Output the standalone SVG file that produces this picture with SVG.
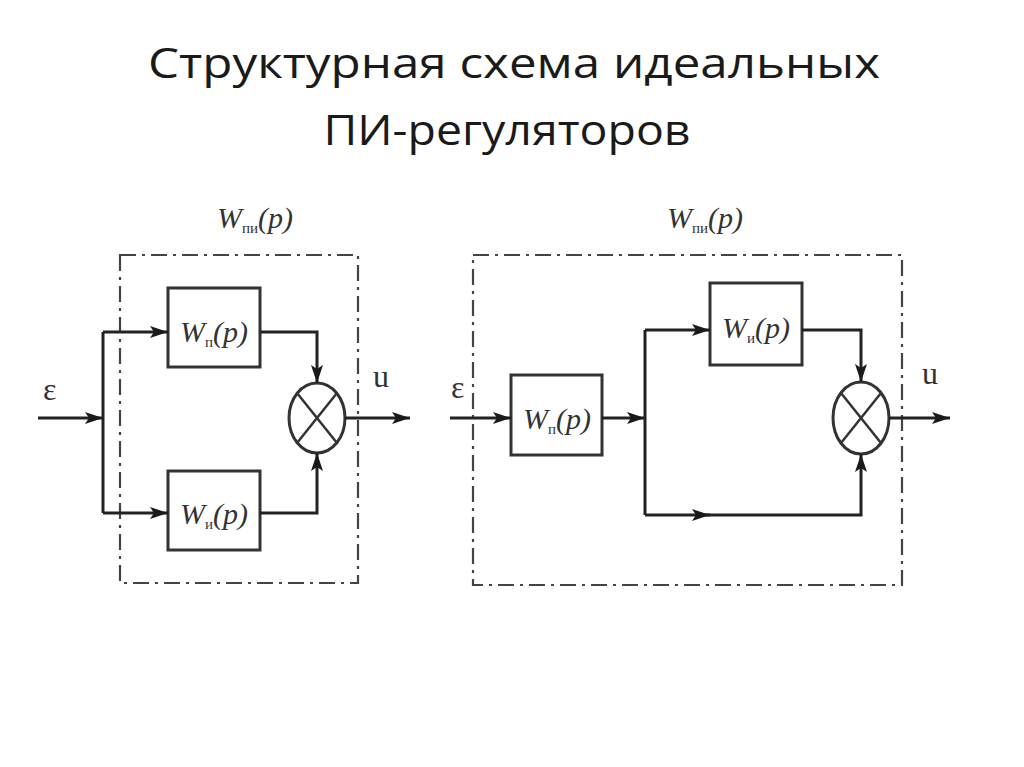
<svg xmlns="http://www.w3.org/2000/svg" width="1024" height="767" viewBox="0 0 1024 767">
<defs>
<marker id="ah" viewBox="0 0 18 12" refX="18" refY="6" markerWidth="18" markerHeight="12" markerUnits="userSpaceOnUse" orient="auto">
<path d="M0,0 L18,6 L0,12 L4,6 Z" fill="#1a1a1a"/>
</marker>
<style>
.title{font-family:"Open Sans","Liberation Sans",sans-serif;font-size:42px;fill:#1a1a1a;text-anchor:middle}
.frame{fill:none;stroke:#444;stroke-width:2.2;stroke-dasharray:16 6 3 6}
.blk{fill:#fff;stroke:#333;stroke-width:3}
.ln{fill:none;stroke:#222;stroke-width:3}
.lbl{font-family:"Liberation Serif",serif;font-style:italic;font-size:30px;fill:#333;text-anchor:middle}
.sub{font-size:15px;font-style:normal}
.sym{font-family:"Liberation Serif",serif;font-size:32px;fill:#333}
</style>
</defs>
<rect width="1024" height="767" fill="#fff"/>
<text class="title" x="514" y="78" textLength="732" lengthAdjust="spacingAndGlyphs">Структурная схема идеальных</text>
<text class="title" x="507" y="145" textLength="367" lengthAdjust="spacingAndGlyphs">ПИ-регуляторов</text>

<!-- Left diagram -->
<g id="left-frame">
<rect class="frame" x="120" y="255" width="238" height="328"/>
<text class="lbl" x="255" y="228">W<tspan class="sub" dy="5">пи</tspan><tspan dy="-5">(p)</tspan></text>
</g>
<g id="L-Wp">
<rect class="blk" x="168" y="288" width="92" height="79"/>
<text class="lbl" x="214" y="342">W<tspan class="sub" dy="5">п</tspan><tspan dy="-5">(p)</tspan></text>
</g>
<g id="L-Wi">
<rect class="blk" x="168" y="471" width="92" height="79"/>
<text class="lbl" x="214" y="524">W<tspan class="sub" dy="5">и</tspan><tspan dy="-5">(p)</tspan></text>
</g>
<g id="L-sum">
<ellipse cx="317" cy="418" rx="28" ry="35" fill="#fff" stroke="#333" stroke-width="3"/>
<line x1="297" y1="393" x2="337" y2="443" stroke="#333" stroke-width="2.5"/>
<line x1="337" y1="393" x2="297" y2="443" stroke="#333" stroke-width="2.5"/>
</g>
<g id="L-labels">
<text class="sym" x="43" y="400">ε</text>
<text class="sym" x="373" y="387">u</text>
</g>
<g id="L-connectors">
<line class="ln" x1="38" y1="418" x2="103" y2="418" marker-end="url(#ah)"/>
<polyline class="ln" points="103,332 103,513"/>
<line class="ln" x1="103" y1="332" x2="168" y2="332" marker-end="url(#ah)"/>
<line class="ln" x1="103" y1="513" x2="168" y2="513" marker-end="url(#ah)"/>
<polyline class="ln" points="260,332 317,332 317,383" marker-end="url(#ah)"/>
<polyline class="ln" points="260,513 317,513 317,453" marker-end="url(#ah)"/>
<line class="ln" x1="345" y1="418" x2="410" y2="418" marker-end="url(#ah)"/>
</g>

<!-- Right diagram -->
<g id="right-frame">
<rect class="frame" x="473" y="255" width="429" height="330"/>
<text class="lbl" x="705" y="228">W<tspan class="sub" dy="5">пи</tspan><tspan dy="-5">(p)</tspan></text>
</g>
<g id="R-Wp">
<rect class="blk" x="511" y="375" width="91" height="80"/>
<text class="lbl" x="557" y="429">W<tspan class="sub" dy="5">п</tspan><tspan dy="-5">(p)</tspan></text>
</g>
<g id="R-Wi">
<rect class="blk" x="710" y="283" width="92" height="82"/>
<text class="lbl" x="756" y="338">W<tspan class="sub" dy="5">и</tspan><tspan dy="-5">(p)</tspan></text>
</g>
<g id="R-sum">
<ellipse cx="861" cy="418" rx="28" ry="36" fill="#fff" stroke="#333" stroke-width="3"/>
<line x1="841" y1="393" x2="881" y2="443" stroke="#333" stroke-width="2.5"/>
<line x1="881" y1="393" x2="841" y2="443" stroke="#333" stroke-width="2.5"/>
</g>
<g id="R-labels">
<text class="sym" x="451" y="398">ε</text>
<text class="sym" x="922" y="384">u</text>
</g>
<g id="R-connectors">
<line class="ln" x1="450" y1="418" x2="511" y2="418" marker-end="url(#ah)"/>
<line class="ln" x1="602" y1="418" x2="645" y2="418" marker-end="url(#ah)"/>
<polyline class="ln" points="645,330 645,515"/>
<line class="ln" x1="645" y1="330" x2="710" y2="330" marker-end="url(#ah)"/>
<polyline class="ln" points="802,330 861,330 861,382" marker-end="url(#ah)"/>
<line class="ln" x1="645" y1="515" x2="710" y2="515" marker-end="url(#ah)"/>
<polyline class="ln" points="705,515 861,515 861,454" marker-end="url(#ah)"/>
<line class="ln" x1="889" y1="418" x2="950" y2="418" marker-end="url(#ah)"/>
</g>
</svg>
